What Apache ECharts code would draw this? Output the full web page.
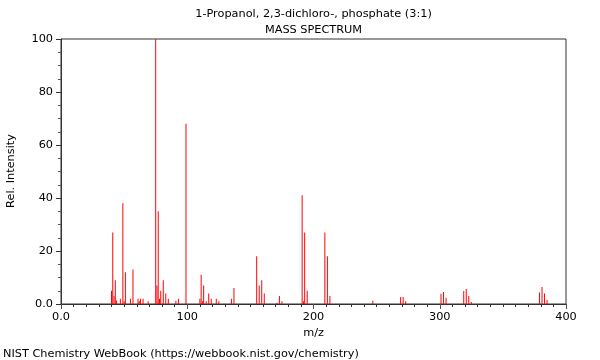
<!DOCTYPE html>
<html>
<head>
<meta charset="utf-8">
<script src="https://cdn.jsdelivr.net/npm/echarts@6/dist/echarts.min.js"></script>
<style>html,body{margin:0;padding:0;background:#fff}#c{width:600px;height:360px}</style>
</head>
<body>
<div id="c"></div>
<script>
var mz = [40,41,42,43,44,47,49,50,51,55,57,61,62,63,65,69,75,76,77,78,79,81,83,85,91,93,99,
          110,111,112,113,115,117,119,123,125,135,137,
          155,157,159,161,171,173,175,191,192,193,195,209,211,213,
          247,269,271,273,301,303,305,319,321,323,325,379,381,383,385];
var intensity = [5,27,3,9,1.3,2,38,1,12,2,13,2,1,2,2,1,100,7,35,2,5,9,4,2,1.2,2,68,
          2,11,1,7,1,4,2,2,1,2,6,
          18,7,9,4,0.5,3,1,41,1,27,5,27,18,3,
          1.2,2.6,2.6,1,3.9,4.5,2.4,4.9,5.7,3,0.8,4.3,6.4,4,1.5];
var xTicks = [0,100,200,300,400];
var yTicks = [0,20,40,60,80,100];
var titleLines = ['1-Propanol, 2,3-dichloro-, phosphate (3:1)', 'MASS SPECTRUM'];

var data = mz.map(function(m,i){return [m, intensity[i]];});
var font = 'DejaVu Sans';
var tf = '11.3px "DejaVu Sans"';
var chart = echarts.init(document.getElementById('c'), null, {renderer:'canvas'});
chart.setOption({
  animation:false,
  backgroundColor:'#fff',
  textStyle:{fontFamily:font},
  grid:{left:61,right:34,top:39,bottom:56,show:true,borderColor:'#333',borderWidth:1,backgroundColor:'transparent'},
  xAxis:{type:'value',min:xTicks[0],max:xTicks[xTicks.length-1],interval:100,
    name:'m/z',nameLocation:'middle',nameGap:23,nameTextStyle:{color:'#000',fontSize:11.3,fontFamily:font},
    axisLine:{lineStyle:{color:'#333'}},
    axisTick:{show:true,length:5,lineStyle:{color:'#555'}},
    minorTick:{show:true,splitNumber:10,length:3,lineStyle:{color:'#333'}},
    splitLine:{show:false},
    axisLabel:{color:'#000',fontSize:11.3,fontFamily:font,margin:8,formatter:function(v){return v===0?'0.0':String(v);}}},
  yAxis:{type:'value',min:yTicks[0],max:yTicks[yTicks.length-1],interval:20,
    axisLine:{show:true,lineStyle:{color:'#333'}},
    axisTick:{show:true,length:5,lineStyle:{color:'#333'}},
    minorTick:{show:true,splitNumber:4,length:3,lineStyle:{color:'#555'}},
    splitLine:{show:false},
    axisLabel:{color:'#000',fontSize:11.3,fontFamily:font,margin:8,formatter:function(v){return v===0?'0.0':String(v);}}},
  graphic:[
    {type:'text',x:313.5,y:14,style:{text:titleLines[0],fill:'#000',font:tf,textAlign:'center',textVerticalAlign:'middle'}},
    {type:'text',x:313.5,y:30,style:{text:titleLines[1],fill:'#000',font:tf,textAlign:'center',textVerticalAlign:'middle'}},
    {type:'text',x:11,y:171,rotation:Math.PI/2,style:{text:'Rel. Intensity',fill:'#000',font:tf,textAlign:'center',textVerticalAlign:'middle'}},
    {type:'text',x:3,y:354,style:{text:'NIST Chemistry WebBook (https://webbook.nist.gov/chemistry)',fill:'#000',font:tf,textAlign:'left',textVerticalAlign:'middle'}}
  ],
  series:[{type:'bar',data:data,barWidth:1,itemStyle:{color:'#ff0000'},large:false}]
});
</script>
</body>
</html>
